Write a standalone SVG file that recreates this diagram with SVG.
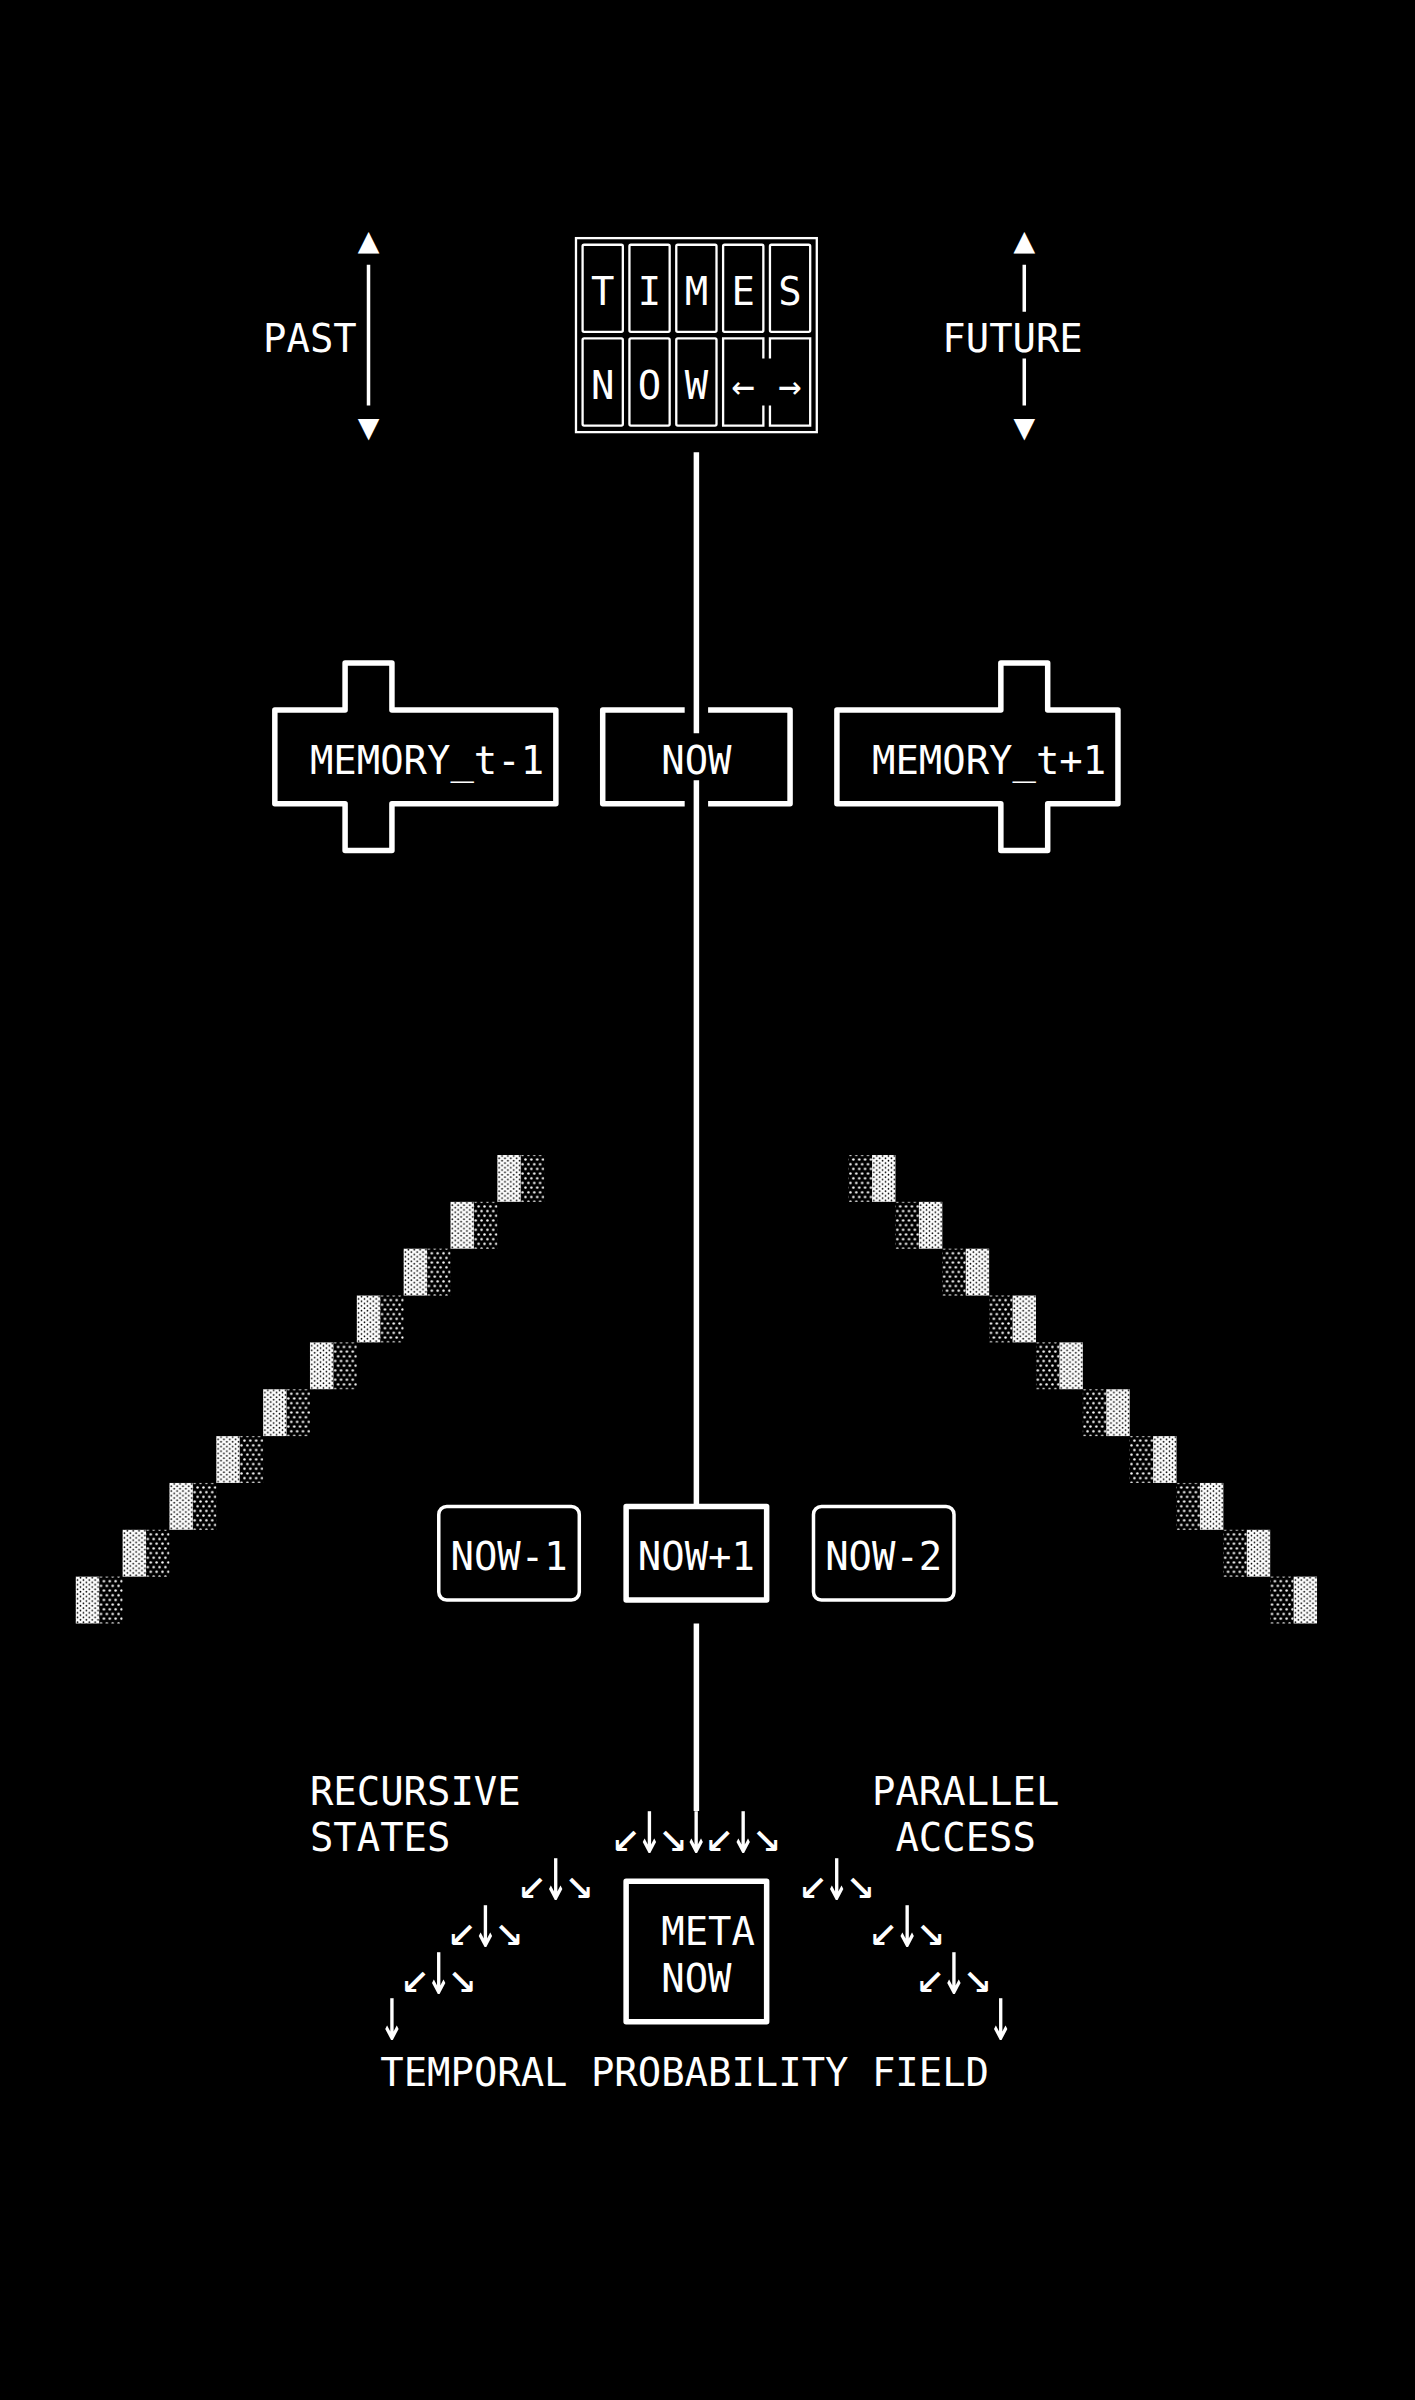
<svg xmlns="http://www.w3.org/2000/svg" width="1415" height="2400" viewBox="0 0 1415 2400">
<defs>
<style>
.t{font-family:"DejaVu Sans Mono","Liberation Mono",monospace;font-size:38.9px;fill:#fff}
.m{text-anchor:middle}
.h{fill:none;stroke:#fff;stroke-width:5.5;stroke-linejoin:round}
.l{fill:none;stroke:#fff;stroke-width:3.5}
.d{fill:none;stroke:#fff;stroke-width:2.3}
.tri{font-family:"DejaVu Sans Mono","DejaVu Sans",monospace;font-size:36px;fill:#fff;text-anchor:middle}
.dg{font-family:"DejaVu Sans Mono","DejaVu Sans",monospace;font-size:48px;fill:#fff;text-anchor:middle}
.dn{font-family:"DejaVu Sans Mono","DejaVu Sans",monospace;font-size:38.9px;fill:#fff;text-anchor:middle}
</style>
<pattern id="sparse" patternUnits="userSpaceOnUse" width="5.855" height="9.37">
<circle cx="1.46" cy="2.34" r="1.25" fill="#fff"/>
<circle cx="4.39" cy="7.03" r="1.25" fill="#fff"/>
</pattern>
<pattern id="dense" patternUnits="userSpaceOnUse" width="5.855" height="4.685">
<rect width="5.855" height="4.685" fill="#fff"/>
<circle cx="1.46" cy="1.17" r="0.85" fill="#000"/>
<circle cx="4.39" cy="3.51" r="0.85" fill="#000"/>
</pattern>
</defs>
<rect width="1415" height="2400" fill="#000"/>

<g id="connectors">
<path class="h" d="M696.39,452.25 V733.35"/>
<path class="h" d="M696.39,780.2 V1506.38"/>
<path class="h" d="M696.39,1623.5 V1810.9"/>
</g>

<g id="past">
<text class="tri" x="368.51" y="252">▲</text>
<path class="l" d="M368.51,264.85 V405.4"/>
<text class="tri" x="368.51" y="439">▼</text>
<text class="t" x="263.12" y="352.2">PAST</text>
</g>

<g id="future">
<text class="tri" x="1024.27" y="252">▲</text>
<path class="l" d="M1024.27,264.85 V311.7 M1024.27,358.55 V405.4"/>
<text class="tri" x="1024.27" y="439">▼</text>
<text class="t" x="942.3" y="352.2">FUTURE</text>
</g>

<g id="times-now">
<rect class="d" x="575.99" y="238.13" width="240.8" height="194"/>
<rect class="d" x="582.59" y="244.73" width="40.24" height="87.1" rx="1.5"/>
<rect class="d" x="629.43" y="244.73" width="40.24" height="87.1" rx="1.5"/>
<rect class="d" x="676.27" y="244.73" width="40.24" height="87.1" rx="1.5"/>
<rect class="d" x="723.11" y="244.73" width="40.24" height="87.1" rx="1.5"/>
<rect class="d" x="769.95" y="244.73" width="40.24" height="87.1" rx="1.5"/>
<rect class="d" x="582.59" y="338.43" width="40.24" height="87.1" rx="1.5"/>
<rect class="d" x="629.43" y="338.43" width="40.24" height="87.1" rx="1.5"/>
<rect class="d" x="676.27" y="338.43" width="40.24" height="87.1" rx="1.5"/>
<path class="d" d="M763.35,358.55 V338.43 H723.11 V425.53 H763.35 V405.4"/>
<path class="d" d="M769.95,358.55 V338.43 H810.19 V425.53 H769.95 V405.4"/>
<text class="t m" x="602.71" y="305.35">T</text>
<text class="t m" x="649.55" y="305.35">I</text>
<text class="t m" x="696.39" y="305.35">M</text>
<text class="t m" x="743.23" y="305.35">E</text>
<text class="t m" x="790.07" y="305.35">S</text>
<text class="t m" x="602.71" y="399.05">N</text>
<text class="t m" x="649.55" y="399.05">O</text>
<text class="t m" x="696.39" y="399.05">W</text>
<text class="t m" x="743.23" y="399.05">←</text>
<text class="t m" x="790.07" y="399.05">→</text>
</g>

<g id="memory-prev">
<path class="h" d="M274.83,709.93 H345.09 V663.08 H391.93 V709.93 H555.87 V803.63 H391.93 V850.48 H345.09 V803.63 H274.83 Z"/>
<text class="t" x="309.96" y="773.85">MEMORY_t-1</text>
</g>

<g id="now">
<path class="h" d="M684.68,709.93 H602.71 V803.63 H684.68 M708.1,709.93 H790.07 V803.63 H708.1"/>
<text class="t" x="661.26" y="773.85">NOW</text>
</g>

<g id="memory-next">
<path class="h" d="M836.91,709.93 H1000.85 V663.08 H1047.69 V709.93 H1117.95 V803.63 H1047.69 V850.48 H1000.85 V803.63 H836.91 Z"/>
<text class="t" x="872.04" y="773.85">MEMORY_t+1</text>
</g>

<g id="staircase-left">
<rect x="497.32" y="1155" width="23.42" height="46.85" fill="url(#dense)"/><rect x="520.74" y="1155" width="23.42" height="46.85" fill="url(#sparse)"/>
<rect x="450.48" y="1201.85" width="23.42" height="46.85" fill="url(#dense)"/><rect x="473.9" y="1201.85" width="23.42" height="46.85" fill="url(#sparse)"/>
<rect x="403.64" y="1248.7" width="23.42" height="46.85" fill="url(#dense)"/><rect x="427.06" y="1248.7" width="23.42" height="46.85" fill="url(#sparse)"/>
<rect x="356.8" y="1295.55" width="23.42" height="46.85" fill="url(#dense)"/><rect x="380.22" y="1295.55" width="23.42" height="46.85" fill="url(#sparse)"/>
<rect x="309.96" y="1342.4" width="23.42" height="46.85" fill="url(#dense)"/><rect x="333.38" y="1342.4" width="23.42" height="46.85" fill="url(#sparse)"/>
<rect x="263.12" y="1389.25" width="23.42" height="46.85" fill="url(#dense)"/><rect x="286.54" y="1389.25" width="23.42" height="46.85" fill="url(#sparse)"/>
<rect x="216.28" y="1436.1" width="23.42" height="46.85" fill="url(#dense)"/><rect x="239.7" y="1436.1" width="23.42" height="46.85" fill="url(#sparse)"/>
<rect x="169.44" y="1482.95" width="23.42" height="46.85" fill="url(#dense)"/><rect x="192.86" y="1482.95" width="23.42" height="46.85" fill="url(#sparse)"/>
<rect x="122.6" y="1529.8" width="23.42" height="46.85" fill="url(#dense)"/><rect x="146.02" y="1529.8" width="23.42" height="46.85" fill="url(#sparse)"/>
<rect x="75.76" y="1576.65" width="23.42" height="46.85" fill="url(#dense)"/><rect x="99.18" y="1576.65" width="23.42" height="46.85" fill="url(#sparse)"/>
</g>

<g id="staircase-right">
<rect x="848.62" y="1155" width="23.42" height="46.85" fill="url(#sparse)"/><rect x="872.04" y="1155" width="23.42" height="46.85" fill="url(#dense)"/>
<rect x="895.46" y="1201.85" width="23.42" height="46.85" fill="url(#sparse)"/><rect x="918.88" y="1201.85" width="23.42" height="46.85" fill="url(#dense)"/>
<rect x="942.3" y="1248.7" width="23.42" height="46.85" fill="url(#sparse)"/><rect x="965.72" y="1248.7" width="23.42" height="46.85" fill="url(#dense)"/>
<rect x="989.14" y="1295.55" width="23.42" height="46.85" fill="url(#sparse)"/><rect x="1012.56" y="1295.55" width="23.42" height="46.85" fill="url(#dense)"/>
<rect x="1035.98" y="1342.4" width="23.42" height="46.85" fill="url(#sparse)"/><rect x="1059.4" y="1342.4" width="23.42" height="46.85" fill="url(#dense)"/>
<rect x="1082.82" y="1389.25" width="23.42" height="46.85" fill="url(#sparse)"/><rect x="1106.24" y="1389.25" width="23.42" height="46.85" fill="url(#dense)"/>
<rect x="1129.66" y="1436.1" width="23.42" height="46.85" fill="url(#sparse)"/><rect x="1153.08" y="1436.1" width="23.42" height="46.85" fill="url(#dense)"/>
<rect x="1176.5" y="1482.95" width="23.42" height="46.85" fill="url(#sparse)"/><rect x="1199.92" y="1482.95" width="23.42" height="46.85" fill="url(#dense)"/>
<rect x="1223.34" y="1529.8" width="23.42" height="46.85" fill="url(#sparse)"/><rect x="1246.76" y="1529.8" width="23.42" height="46.85" fill="url(#dense)"/>
<rect x="1270.18" y="1576.65" width="23.42" height="46.85" fill="url(#sparse)"/><rect x="1293.6" y="1576.65" width="23.42" height="46.85" fill="url(#dense)"/>
</g>

<g id="now-minus-1">
<rect class="l" x="438.77" y="1506.38" width="140.52" height="93.7" rx="8"/>
<text class="t" x="450.48" y="1570.3">NOW-1</text>
</g>

<g id="now-plus-1">
<rect class="h" x="626.13" y="1506.38" width="140.52" height="93.7"/>
<text class="t" x="637.84" y="1570.3">NOW+1</text>
</g>

<g id="now-minus-2">
<rect class="l" x="813.49" y="1506.38" width="140.52" height="93.7" rx="8"/>
<text class="t" x="825.2" y="1570.3">NOW-2</text>
</g>

<g id="recursive-states">
<text class="t" x="309.96" y="1804.55">RECURSIVE</text>
<text class="t" x="309.96" y="1851.4">STATES</text>
</g>

<g id="parallel-access">
<text class="t" x="872.04" y="1804.55">PARALLEL</text>
<text class="t" x="895.46" y="1851.4">ACCESS</text>
</g>

<g id="meta-now">
<rect class="h" x="626.13" y="1881.18" width="140.52" height="140.55"/>
<text class="t" x="661.26" y="1945.1">META</text>
<text class="t" x="661.26" y="1991.95">NOW</text>
</g>

<g id="probability-arrows">
<text class="dg" x="626.13" y="1851.4">↙</text>
<text class="dn" transform="translate(649.55,1853) scale(1.05,2)">↓</text>
<text class="dg" x="672.97" y="1851.4">↘</text>
<text class="dn" transform="translate(696.39,1853) scale(1.05,2)">↓</text>
<text class="dg" x="719.81" y="1851.4">↙</text>
<text class="dn" transform="translate(743.23,1853) scale(1.05,2)">↓</text>
<text class="dg" x="766.65" y="1851.4">↘</text>
<text class="dg" x="532.45" y="1898.25">↙</text>
<text class="dn" transform="translate(555.87,1899.85) scale(1.05,2)">↓</text>
<text class="dg" x="579.29" y="1898.25">↘</text>
<text class="dg" x="813.49" y="1898.25">↙</text>
<text class="dn" transform="translate(836.91,1899.85) scale(1.05,2)">↓</text>
<text class="dg" x="860.33" y="1898.25">↘</text>
<text class="dg" x="462.19" y="1945.1">↙</text>
<text class="dn" transform="translate(485.61,1946.7) scale(1.05,2)">↓</text>
<text class="dg" x="509.03" y="1945.1">↘</text>
<text class="dg" x="883.75" y="1945.1">↙</text>
<text class="dn" transform="translate(907.17,1946.7) scale(1.05,2)">↓</text>
<text class="dg" x="930.59" y="1945.1">↘</text>
<text class="dg" x="415.35" y="1991.95">↙</text>
<text class="dn" transform="translate(438.77,1993.55) scale(1.05,2)">↓</text>
<text class="dg" x="462.19" y="1991.95">↘</text>
<text class="dg" x="930.59" y="1991.95">↙</text>
<text class="dn" transform="translate(954.01,1993.55) scale(1.05,2)">↓</text>
<text class="dg" x="977.43" y="1991.95">↘</text>
<text class="dn" transform="translate(391.93,2040.4) scale(1.05,2)">↓</text>
<text class="dn" transform="translate(1000.85,2040.4) scale(1.05,2)">↓</text>
</g>

<g id="temporal-field">
<text class="t" x="380.22" y="2085.65">TEMPORAL PROBABILITY FIELD</text>
</g>
</svg>
